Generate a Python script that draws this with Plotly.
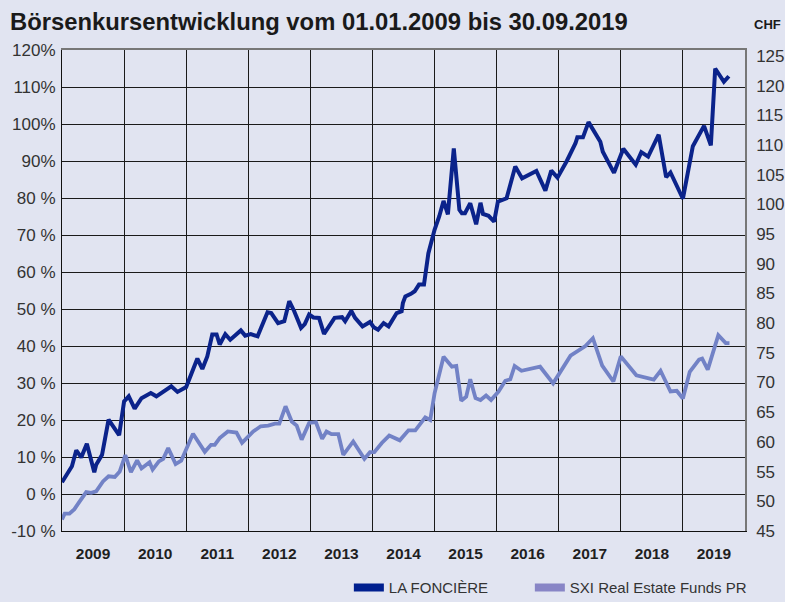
import plotly.graph_objects as go

# ---- data (x in decimal years, values in % change since 01.01.2009) ----
fonciere_t = [2009.00, 2009.10, 2009.16, 2009.23, 2009.31, 2009.40, 2009.52, 2009.55, 2009.645, 2009.75,
              2009.92, 2010.00, 2010.075, 2010.17, 2010.28, 2010.43, 2010.52, 2010.76, 2010.86, 2011.00,
              2011.18, 2011.26, 2011.34, 2011.42, 2011.49, 2011.54, 2011.63, 2011.71, 2011.88, 2011.95,
              2012.04, 2012.15, 2012.31, 2012.37, 2012.48, 2012.58, 2012.66, 2012.74, 2012.85, 2012.91,
              2012.98, 2013.05, 2013.14, 2013.22, 2013.39, 2013.51, 2013.56, 2013.66, 2013.72, 2013.84,
              2013.96, 2014.02, 2014.09, 2014.18, 2014.26, 2014.39, 2014.47, 2014.49, 2014.53, 2014.62,
              2014.68, 2014.75, 2014.83, 2014.90, 2015.00, 2015.075, 2015.145, 2015.215, 2015.31, 2015.40,
              2015.44, 2015.49, 2015.575, 2015.67, 2015.74, 2015.78, 2015.87, 2015.96, 2016.02, 2016.16,
              2016.30, 2016.41, 2016.64, 2016.785, 2016.88, 2016.98, 2017.13, 2017.27, 2017.30, 2017.39,
              2017.48, 2017.67, 2017.71, 2017.89, 2018.04, 2018.24, 2018.33, 2018.44, 2018.61, 2018.73,
              2018.80, 2019.00, 2019.16, 2019.34, 2019.45, 2019.52, 2019.66, 2019.74]
fonciere_v = [3.2, 5.7, 7.5, 11.8, 9.9, 13.6, 5.9, 7.9, 10.6, 20.1,
              15.9, 25.0, 26.4, 23.1, 25.9, 27.3, 26.4, 29.1, 27.6, 28.9,
              36.6, 33.8, 37.2, 43.1, 43.1, 40.4, 43.2, 41.7, 44.2, 42.8,
              43.2, 42.6, 49.1, 48.9, 46.2, 46.7, 52.1, 49.4, 44.9, 45.9,
              48.5, 47.7, 47.6, 43.3, 47.6, 47.8, 46.7, 49.5, 47.6, 45.3,
              46.5, 45.1, 44.4, 46.2, 45.3, 48.9, 49.4, 51.6, 53.4, 54.1,
              54.8, 56.6, 56.6, 65.0, 71.4, 75.0, 79.2, 75.6, 93.4, 76.8,
              75.9, 75.9, 78.6, 72.9, 78.7, 75.7, 75.2, 73.6, 79.0, 79.9,
              88.5, 85.3, 87.3, 82.0, 87.4, 85.5, 90.0, 94.8, 96.4, 96.4,
              100.5, 95.2, 92.5, 86.8, 93.3, 89.0, 92.4, 91.2, 97.1, 85.6,
              86.9, 79.8, 94.0, 99.5, 94.2, 115.0, 111.4, 112.9]

sxi_t = [2009.00, 2009.043, 2009.12, 2009.20, 2009.285, 2009.39, 2009.47, 2009.55, 2009.66, 2009.75,
         2009.85, 2009.93, 2010.02, 2010.11, 2010.21, 2010.28, 2010.41, 2010.46, 2010.56, 2010.63,
         2010.71, 2010.83, 2010.92, 2011.00, 2011.11, 2011.30, 2011.40, 2011.46, 2011.54, 2011.67,
         2011.81, 2011.90, 2012.03, 2012.08, 2012.20, 2012.32, 2012.43, 2012.50, 2012.60, 2012.70,
         2012.78, 2012.86, 2012.98, 2013.09, 2013.19, 2013.26, 2013.34, 2013.45, 2013.53, 2013.69,
         2013.87, 2013.96, 2014.03, 2014.15, 2014.27, 2014.44, 2014.58, 2014.69, 2014.85, 2014.93,
         2015.00, 2015.145, 2015.28, 2015.35, 2015.43, 2015.51, 2015.575, 2015.66, 2015.74, 2015.83,
         2015.91, 2016.03, 2016.14, 2016.22, 2016.29, 2016.40, 2016.70, 2016.91, 2017.19, 2017.43,
         2017.55, 2017.70, 2017.88, 2018.00, 2018.25, 2018.53, 2018.64, 2018.80, 2018.90, 2019.00,
         2019.11, 2019.26, 2019.31, 2019.40, 2019.57, 2019.69, 2019.75]
sxi_v = [-6.9, -5.3, -5.3, -4.1, -2.0, 0.5, 0.3, 0.7, 3.4, 4.8,
         4.6, 6.1, 10.5, 5.9, 9.1, 6.9, 8.6, 6.6, 8.8, 9.5,
         12.4, 8.1, 9.0, 12.0, 16.3, 11.4, 13.3, 13.3, 15.1, 16.9,
         16.6, 13.8, 16.0, 16.9, 18.3, 18.5, 19.0, 19.0, 23.7, 19.6,
         18.5, 14.7, 19.2, 19.4, 14.9, 16.9, 16.2, 16.2, 10.6, 14.2,
         9.5, 11.3, 11.3, 13.8, 15.8, 14.5, 17.2, 17.2, 20.7, 20.0,
         27.2, 37.1, 34.4, 34.6, 25.2, 26.3, 31.0, 25.9, 25.4, 26.6,
         25.4, 27.7, 30.6, 31.0, 34.6, 33.3, 34.4, 29.9, 37.4, 40.0,
         42.1, 34.7, 30.4, 37.2, 32.1, 30.9, 33.3, 27.7, 27.9, 25.8,
         33.0, 36.3, 36.6, 33.6, 42.9, 40.8, 40.8]

series_names = ["LA FONCIÈRE", "SXI Real Estate Funds PR"]

year_labels = ["2009", "2010", "2011", "2012", "2013", "2014", "2015", "2016", "2017", "2018", "2019"]
year_bounds = list(range(2009, 2020))
pct_ticks = [-10, 0, 10, 20, 30, 40, 50, 60, 70, 80, 90, 100, 110, 120]
pct_labels = ["-10 %", "0 %", "10 %", "20 %", "30 %", "40 %", "50 %", "60 %", "70 %", "80 %",
              "90%", "100%", "110%", "120%"]
chf_ticks = [45, 50, 55, 60, 65, 70, 75, 80, 85, 90, 95, 100, 105, 110, 115, 120, 125]

DARK = "#0b238b"
LIGHT = "#7282c6"
SW_DARK = "#001f8f"
SW_LIGHT = "#8885c6"
BG = "#e1e4f1"
TXT = "#333333"
FONT = "Liberation Sans"

fig = go.Figure()
fig.add_trace(go.Scatter(x=sxi_t, y=sxi_v, mode="lines", line=dict(color=LIGHT, width=3.8),
                         showlegend=False, hoverinfo="skip"))
fig.add_trace(go.Scatter(x=fonciere_t, y=fonciere_v, mode="lines", line=dict(color=DARK, width=4),
                         showlegend=False, hoverinfo="skip"))
# legend swatches (one legend per entry so they can be spaced like the original)
fig.add_trace(go.Scatter(x=[None], y=[None], mode="lines", name=series_names[0],
                         line=dict(color=SW_DARK, width=8), legend="legend"))
fig.add_trace(go.Scatter(x=[None], y=[None], mode="lines", name=series_names[1],
                         line=dict(color=SW_LIGHT, width=8), legend="legend2"))
# invisible traces for the right axis and the top frame line
fig.add_trace(go.Scatter(x=[None], y=[None], yaxis="y2", showlegend=False, hoverinfo="skip"))
fig.add_trace(go.Scatter(x=[None], y=[None], xaxis="x2", showlegend=False, hoverinfo="skip"))

legend_style = dict(orientation="h", xanchor="left", y=-0.118, yanchor="middle",
                    font=dict(family=FONT, size=15, color=TXT), bgcolor="rgba(0,0,0,0)",
                    itemwidth=30)

fig.update_layout(
    width=785, height=602,
    paper_bgcolor=BG, plot_bgcolor=BG,
    margin=dict(l=62, r=40, t=50, b=71, autoexpand=False),
    font=dict(family=FONT, size=17, color=TXT),
    title=dict(text="<b>Börsenkursentwicklung vom 01.01.2009 bis 30.09.2019</b>",
               x=10/785, xanchor="left", y=1-22/602, yanchor="middle",
               font=dict(family=FONT, size=23.8, color="#1a1a1a")),
    xaxis=dict(range=[2009, 2020], tickvals=[y + 0.5 for y in year_bounds], ticktext=year_labels,
               showgrid=False, zeroline=False, ticks="", ticklabelstandoff=8, automargin=False,
               tickfont=dict(family=FONT, size=15.5, color="#1f1f1f", weight="bold"),
               showline=True, linecolor="#111111", linewidth=1,
               minor=dict(tickvals=year_bounds[1:], showgrid=True, gridcolor="#1a1a1a", gridwidth=1, ticks="")),
    xaxis2=dict(range=[2009, 2020], overlaying="x", side="top", showticklabels=False, showgrid=False,
                zeroline=False, ticks="", automargin=False,
                showline=True, linecolor="#777777", linewidth=2),
    yaxis=dict(range=[-10, 120], tickvals=pct_ticks, ticktext=pct_labels, automargin=False,
               showgrid=True, gridcolor="#1a1a1a", gridwidth=1, zeroline=False, ticks="",
               ticklabelstandoff=2, showline=True, linecolor="#111111", linewidth=1),
    yaxis2=dict(range=[45, 126], tickvals=chf_ticks, overlaying="y", side="right", automargin=False,
                showgrid=False, zeroline=False, ticks="", ticklabelstandoff=6,
                showline=True, linecolor="#777777", linewidth=1.5),
    legend=dict(x=0.42, **legend_style),
    legend2=dict(x=0.685, **legend_style),
    annotations=[dict(text="<b>CHF</b>", xref="paper", yref="paper", x=1.0102, y=1.052,
                      xanchor="left", yanchor="middle", showarrow=False,
                      font=dict(family=FONT, size=13, color="#1a1a1a"))],
)

fig.write_html("out.html", config={"displayModeBar": False},
               post_script="document.body.style.margin='0';")
